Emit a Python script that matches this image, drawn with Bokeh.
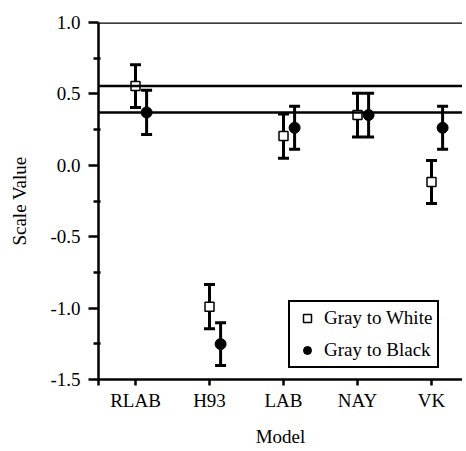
from bokeh.plotting import figure
from bokeh.models import (ColumnDataSource, Range1d, FixedTicker, PrintfTickFormatter,
                          Whisker, TeeHead, Span, Legend, LegendItem)
from bokeh.embed import file_html
from bokeh.resources import INLINE

# ---- data ----
models = ["RLAB", "H93", "LAB", "NAY", "VK"]
white_vals = [0.555, -0.99, 0.205, 0.352, -0.117]
white_err = [0.15, 0.155, 0.155, 0.153, 0.15]
black_vals = [0.37, -1.252, 0.263, 0.352, 0.263]
black_err = [0.155, 0.15, 0.15, 0.153, 0.15]
ref_lines = [0.555, 0.37]
y_ticks = [-1.5, -1.0, -0.5, 0.0, 0.5, 1.0]
y_minor = [-1.25, -0.75, -0.25, 0.25, 0.75]

FONT = "Liberation Serif"
FS = "19px"

pos = list(range(1, len(models) + 1))
offset = 0.15
x_white = [p_ for p_ in pos]
x_black = [p_ + offset for p_ in pos]

FW = 364
p = figure(frame_width=FW, frame_height=357, output_backend="svg", toolbar_location=None,
           x_range=Range1d(0.5, 0.5 + FW / 74), y_range=Range1d(-1.5, 1.0),
           min_border_left=98, min_border_right=0, min_border_top=22, min_border_bottom=56)
p.outline_line_color = None
p.xgrid.visible = False
p.ygrid.visible = False
p.background_fill_color = "white"

# reference lines and top line
for v in ref_lines + [1.0]:
    p.add_layout(Span(location=v, dimension="width", line_color="black", line_width=2.5))

src_w = ColumnDataSource(dict(x=x_white, y=white_vals,
                              up=[v + e for v, e in zip(white_vals, white_err)],
                              lo=[v - e for v, e in zip(white_vals, white_err)]))
src_b = ColumnDataSource(dict(x=x_black, y=black_vals,
                              up=[v + e for v, e in zip(black_vals, black_err)],
                              lo=[v - e for v, e in zip(black_vals, black_err)]))

sq = p.scatter("x", "y", source=src_w, marker="square", size=9, fill_color="white",
               line_color="black", line_width=1.5)
ci = p.scatter("x", "y", source=src_b, marker="circle", size=11, fill_color="black",
               line_color="black")

for s in (src_w, src_b):
    p.add_layout(Whisker(source=s, base="x", upper="up", lower="lo", dimension="height",
                         line_width=3, line_color="black",
                         upper_head=TeeHead(size=11, line_width=3, line_color="black"),
                         lower_head=TeeHead(size=11, line_width=3, line_color="black")))

# axes
xa = p.xaxis[0]
xa.ticker = FixedTicker(ticks=[0.5] + pos)
overrides = {0.5: ""}
for k, m in zip(pos, models):
    overrides[k] = m
xa.major_label_overrides = overrides
xa.axis_label = "Model"
xa.minor_tick_line_color = None
xa.major_tick_in = 0
xa.major_tick_out = 6
xa.major_label_standoff = 4
xa.axis_label_standoff = 12

ya = p.yaxis[0]
ya.ticker = FixedTicker(ticks=y_ticks, minor_ticks=y_minor)
ya.formatter = PrintfTickFormatter(format="%.1f")
ya.axis_label = "Scale Value"
ya.major_tick_in = 0
ya.major_tick_out = 10
ya.minor_tick_in = 2
ya.minor_tick_out = 5
ya.major_label_standoff = 8
ya.axis_label_standoff = 17

for ax in (xa, ya):
    ax.axis_line_width = 2.5
    ax.axis_line_color = "black"
    ax.major_tick_line_width = 2.5
    ax.minor_tick_line_width = 2.5
    ax.major_tick_line_color = "black"
    ax.minor_tick_line_color = "black" if ax is ya else None
    ax.major_label_text_font = FONT
    ax.major_label_text_font_size = FS
    ax.major_label_text_color = "black"
    ax.axis_label_text_font = FONT
    ax.axis_label_text_font_size = FS
    ax.axis_label_text_font_style = "normal"
    ax.axis_label_text_color = "black"

legend = Legend(items=[LegendItem(label="Gray to White", renderers=[sq]),
                       LegendItem(label="Gray to Black", renderers=[ci])],
                location=(190, 11), padding=5, spacing=10, glyph_width=24, glyph_height=20,
                label_height=20, label_standoff=5, label_text_font=FONT,
                label_text_font_size=FS, label_text_color="black",
                border_line_color="black", border_line_width=2, border_line_alpha=1.0,
                background_fill_color="white", background_fill_alpha=1.0, margin=0)
p.add_layout(legend, "center")

open("out.html", "w").write(file_html(p, INLINE))
